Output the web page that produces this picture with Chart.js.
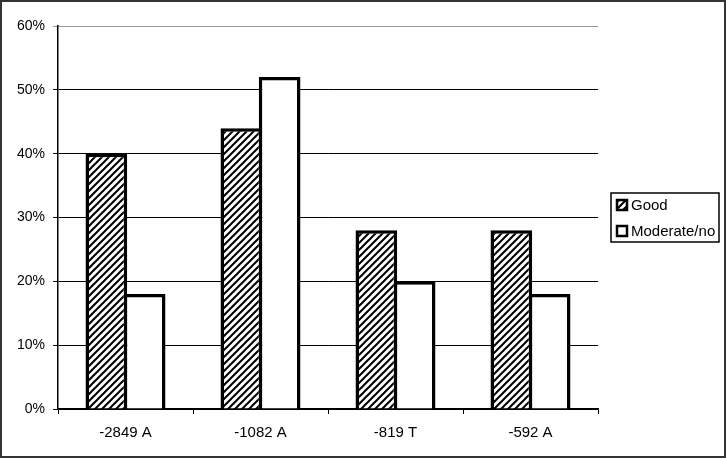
<!DOCTYPE html>
<html>
<head>
<meta charset="utf-8">
<script src="https://cdn.jsdelivr.net/npm/chart.js@4"></script>
<style>
  html, body { margin: 0; padding: 0; background: #fff; }
  #wrap { width: 726px; height: 459px; position: relative; }
</style>
</head>
<body>
<div id="wrap"><canvas id="snp-chart"></canvas></div>
<script>
const categories = ["-2849 A", "-1082 A", "-819 T", "-592 A"];
const goodValues = [40, 44, 28, 28];
const moderateValues = [18, 52, 20, 18];
const seriesNames = ["Good", "Moderate/no"];
const yTicks = [0, 10, 20, 30, 40, 50, 60];

const chartCanvas = document.querySelector("#snp-chart");
const FONT = "'Liberation Sans', Arial, sans-serif";

/* hatch pattern for the "Good" bars */
function makeHatch() {
  const p = document.createElement("canvas");
  p.width = 7;
  p.height = 7;
  const c = p.getContext("2d");
  c.fillStyle = "#fff";
  c.fillRect(0, 0, 7, 7);
  c.strokeStyle = "#000";
  c.lineWidth = 2;
  c.beginPath();
  c.moveTo(-1, 8); c.lineTo(8, -1);
  c.moveTo(-4.5, 4.5); c.lineTo(4.5, -4.5);
  c.moveTo(2.5, 11.5); c.lineTo(11.5, 2.5);
  c.stroke();
  return c.createPattern(p, "repeat");
}
const hatch = makeHatch();

/* outer frame + boxed legend drawn on the canvas */
const framePlugin = {
  id: "frame",
  afterDraw(chart) {
    const ctx = chart.ctx;
    ctx.save();
    ctx.strokeStyle = "#333";
    ctx.lineWidth = 2;
    ctx.strokeRect(1, 1, 724, 456);

    // legend box
    ctx.strokeStyle = "#000";
    ctx.lineWidth = 1.5;
    ctx.strokeRect(611, 193, 108, 49);
    const fills = [hatch, "#fff"];
    const rows = [205, 231];
    ctx.font = "15px " + FONT;
    ctx.textBaseline = "middle";
    for (let i = 0; i < seriesNames.length; i++) {
      ctx.fillStyle = fills[i];
      ctx.fillRect(617, rows[i] - 5, 10, 10);
      ctx.lineWidth = 2.5;
      ctx.strokeStyle = "#000";
      ctx.strokeRect(617, rows[i] - 5, 10, 10);
      ctx.fillStyle = "#000";
      ctx.fillText(seriesNames[i], 631, rows[i] + 1);
    }
    ctx.restore();
  }
};

Chart.defaults.font.family = FONT;
Chart.defaults.font.size = 14;
Chart.defaults.color = "#000";

const snpChart = new Chart(chartCanvas, {
  type: "bar",
  data: {
    labels: categories,
    datasets: [
      {
        label: seriesNames[0],
        data: goodValues,
        backgroundColor: hatch,
        borderColor: "#000",
        borderWidth: 3.5,
      },
      {
        label: seriesNames[1],
        data: moderateValues,
        backgroundColor: "#fff",
        borderColor: "#000",
        borderWidth: 3.5,
      },
    ],
  },
  options: {
    responsive: true,
    maintainAspectRatio: false,
    animation: false,
    categoryPercentage: 0.567,
    barPercentage: 1.09,
    layout: {
      padding: { top: 26, right: 128, left: 0, bottom: 0 },
    },
    plugins: {
      legend: { display: false },
      tooltip: { enabled: false },
    },
    scales: {
      x: {
        grid: {
          drawOnChartArea: false,
          drawTicks: true,
          tickLength: 5,
          color: "#000",
          offset: true,
        },
        border: { color: "#000", width: 1.5 },
        ticks: { padding: 10, color: "#000", font: { size: 15 } },
        afterFit: (s) => { s.height = 50; },
      },
      y: {
        min: 0,
        max: 60,
        afterBuildTicks: (s) => { s.ticks = yTicks.map((v) => ({ value: v })); },
        grid: {
          color: (c) => (c.tick && c.tick.value === 60 ? "#999" : "#000"),
          lineWidth: 1,
          tickLength: 5,
        },
        border: { color: "#000", width: 1.5 },
        ticks: {
          padding: 8,
          color: "#000",
          callback: (v) => v + "%",
        },
        afterFit: (s) => { s.width = 58; },
      },
    },
  },
  plugins: [framePlugin],
});
</script>
</body>
</html>
